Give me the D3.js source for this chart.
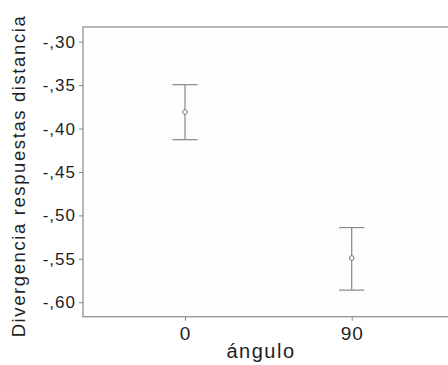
<!DOCTYPE html>
<html><head><meta charset="utf-8">
<script src="https://cdn.jsdelivr.net/npm/d3@7"></script>
<style>body{margin:0;background:#fff}svg{display:block}text{font-family:"Liberation Sans",Arial,sans-serif;fill:#1e1e1e}</style>
</head><body>
<script>
const categories = ["0", "90"];
const means = [-0.381, -0.549];
const upper = [-0.3495, -0.514];
const lower = [-0.4128, -0.586];
const yTicks = [-0.30, -0.35, -0.40, -0.45, -0.50, -0.55, -0.60];
const yTickLabels = ["-,30", "-,35", "-,40", "-,45", "-,50", "-,55", "-,60"];
const xTitle = "ángulo";
const yTitle = "Divergencia respuestas distancia";

(function () {
const W = 448, H = 365;
const pL = 83, pT = 27, pB = 316.7, pR = 453.7;
const svg = d3.select("body").append("svg").attr("width", W).attr("height", H);

const x = d3.scalePoint().domain(categories).range([pL, pR]).padding(0.612);
const y = d3.scaleLinear().domain([-0.6166, -0.2831]).range([pB, pT]);

svg.append("rect").attr("x", pL).attr("y", pT).attr("width", pR - pL).attr("height", pB - pT)
  .attr("fill", "#fdfdfd").attr("stroke", "#999").attr("stroke-width", 1.4);

const yAxis = d3.axisLeft(y).tickValues(yTicks).tickSize(4).tickPadding(3)
  .tickFormat((d, i) => yTickLabels[i]);
const gy = svg.append("g").attr("transform", `translate(${pL},0)`).call(yAxis);
gy.select(".domain").remove();
gy.selectAll(".tick line").attr("stroke", "#888");
gy.selectAll(".tick text").attr("font-size", 17).attr("letter-spacing", "1px").style("fill", "#1e1e1e");

const xAxis = d3.axisBottom(x).tickSize(4).tickPadding(6);
const gx = svg.append("g").attr("transform", `translate(0,${pB})`).call(xAxis);
gx.select(".domain").remove();
gx.selectAll(".tick line").attr("stroke", "#888");
gx.selectAll(".tick text").attr("font-size", 19).attr("letter-spacing", "1px").style("fill", "#1e1e1e");

const cap = 12.6;
const g = svg.append("g");
categories.forEach((c, i) => {
  const cx = x(c);
  g.append("line").attr("x1", cx).attr("x2", cx).attr("y1", y(upper[i])).attr("y2", y(lower[i])).attr("stroke", "#888").attr("stroke-width", 1.2);
  g.append("line").attr("x1", cx - cap).attr("x2", cx + cap).attr("y1", y(upper[i])).attr("y2", y(upper[i])).attr("stroke", "#888").attr("stroke-width", 1.2);
  g.append("line").attr("x1", cx - cap).attr("x2", cx + cap).attr("y1", y(lower[i])).attr("y2", y(lower[i])).attr("stroke", "#888").attr("stroke-width", 1.2);
  g.append("circle").attr("cx", cx).attr("cy", y(means[i])).attr("r", 2.3).attr("fill", "#fff").attr("stroke", "#777").attr("stroke-width", 1);
});

svg.append("text").attr("x", 261).attr("y", 358).attr("text-anchor", "middle")
  .attr("font-size", 20).attr("letter-spacing", "1.5px").text(xTitle);
svg.append("text").attr("transform", "translate(25,176) rotate(-90)").attr("text-anchor", "middle")
  .attr("font-size", 18.5).attr("letter-spacing", "1.6px").text(yTitle);
})();
</script>
</body></html>
